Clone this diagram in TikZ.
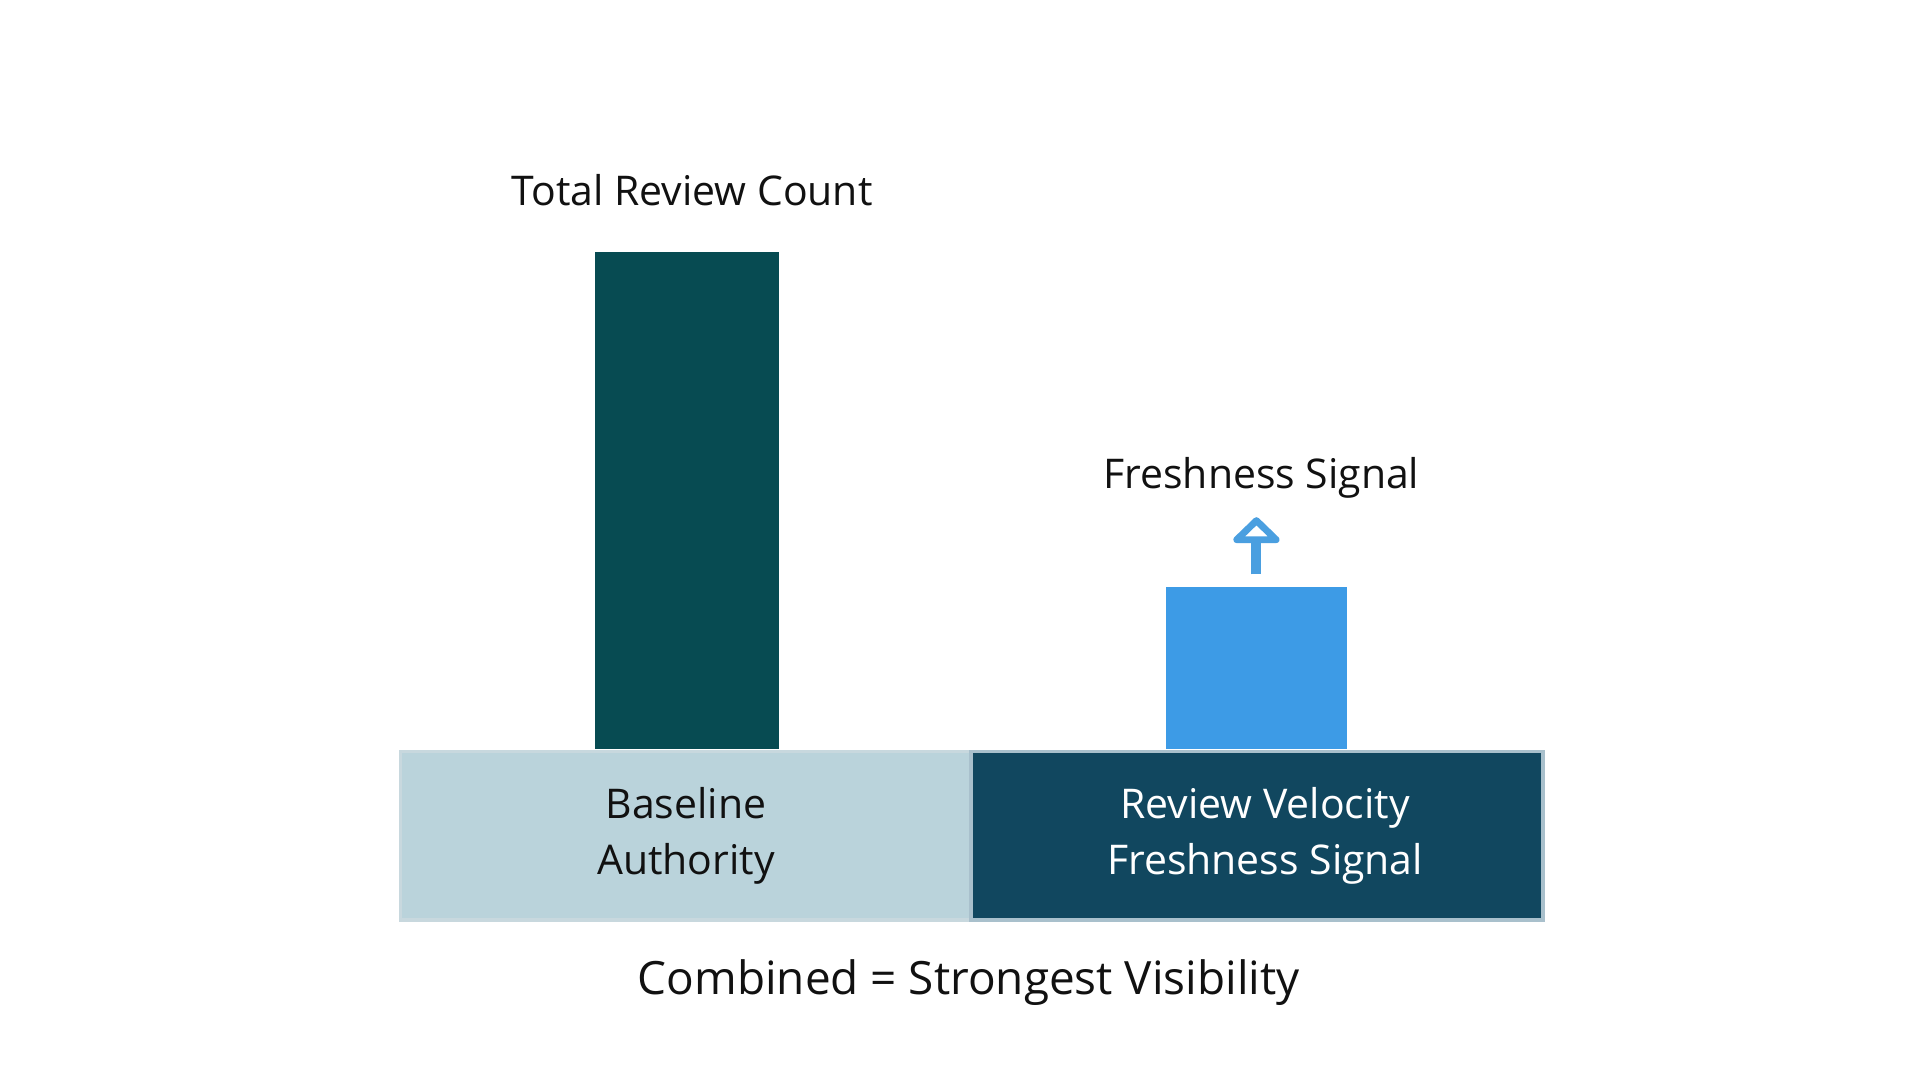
\documentclass[tikz,border=0pt]{standalone}
\usepackage{fontspec}
\setmainfont{Open Sans}
\usetikzlibrary{arrows.meta}
\definecolor{tall}{HTML}{074B52}
\definecolor{small}{HTML}{3D9BE6}
\definecolor{arr}{HTML}{4A9FE0}
\definecolor{baseL}{HTML}{BAD3DB}
\definecolor{baseLb}{HTML}{C8D8DE}
\definecolor{baseR}{HTML}{11475F}
\definecolor{baseRb}{HTML}{A9C0CC}
\definecolor{txt}{HTML}{111111}
\tikzset{
  lbl/.style={font=\fontsize{33}{40}\selectfont, text=txt, inner sep=0pt},
  blbl/.style={font=\fontsize{33}{45}\selectfont, align=center, inner sep=0pt},
}
\begin{document}
\begin{tikzpicture}[x=1pt,y=-1pt]
\useasboundingbox (0,0) rectangle (1548,870);
\fill[white] (0,0) rectangle (1548,870);
\fill[tall] (480,203) rectangle (628,604);
\fill[small] (940,473) rectangle (1086,604);
\draw[baseLb, line width=3pt, fill=baseL] (323,606) rectangle (783,742);
\draw[baseRb, line width=3pt, fill=baseR] (783,606) rectangle (1244,742);
\node[lbl] (t1) at (558,153) {Total Review Count};
\node[lbl] (t2) at (1017,385) {Freshness Signal};
\coordinate (a0) at (1013,463);
\coordinate (a1) at (1013,417);
\draw[arr, line width=8pt, -{Triangle[open, width=44pt, length=22pt, line width=8pt, round]}] (a0) -- (a1);
\node[blbl, text=txt] (bl) at (553,674) {Baseline\\Authority};
\node[blbl, text=white] (br) at (1020,674) {Review Velocity\\Freshness Signal};
\node[lbl, font=\fontsize{37}{44}\selectfont] (c) at (781,792) {Combined = Strongest Visibility};
\end{tikzpicture}
\end{document}
